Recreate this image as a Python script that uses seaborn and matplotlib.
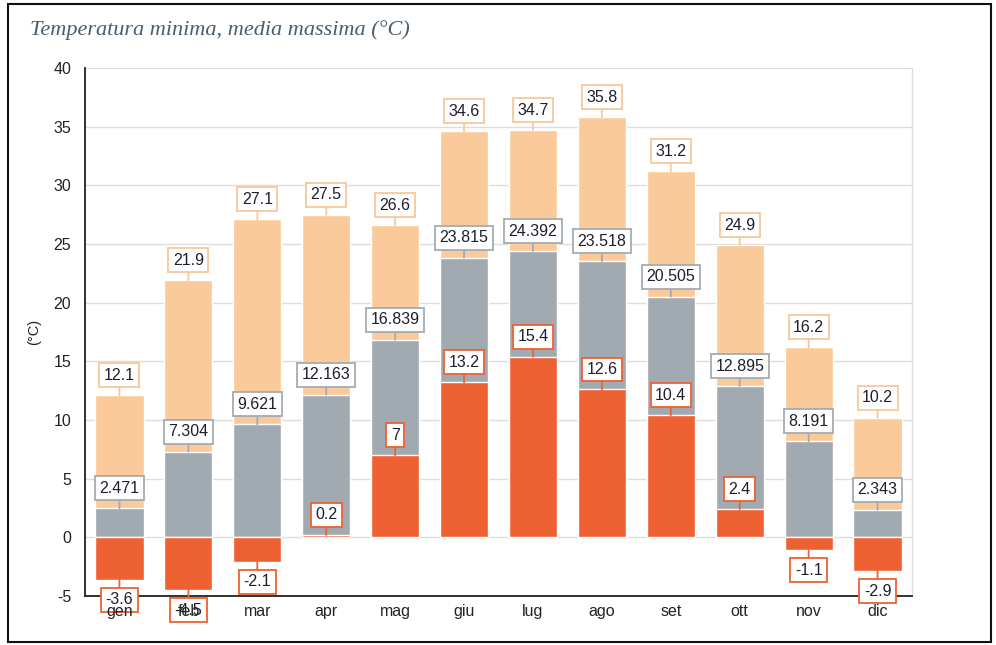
import matplotlib
matplotlib.use("Agg")
import matplotlib.pyplot as plt
import seaborn as sns
import numpy as np
import pandas as pd
from matplotlib.patches import Rectangle

months = ["gen", "feb", "mar", "apr", "mag", "giu", "lug", "ago", "set", "ott", "nov", "dic"]
t_max = [12.1, 21.9, 27.1, 27.5, 26.6, 34.6, 34.7, 35.8, 31.2, 24.9, 16.2, 10.2]
t_mean = [2.471, 7.304, 9.621, 12.163, 16.839, 23.815, 24.392, 23.518, 20.505, 12.895, 8.191, 2.343]
t_min = [-3.6, -4.5, -2.1, 0.2, 7, 13.2, 15.4, 12.6, 10.4, 2.4, -1.1, -2.9]
y_ticks = [-5, 0, 5, 10, 15, 20, 25, 30, 35, 40]

c_max = "#FACA9A"
c_mean = "#A2AAB1"
c_min = "#EE6132"
c_max_edge = "#F9C79A"
c_mean_edge = "#A2ABB4"
c_min_edge = "#EE6132"

sns.set_theme(style="white")
plt.rcParams["font.family"] = ["Liberation Sans", "DejaVu Sans"]

fig = plt.figure(figsize=(9.96, 6.45), dpi=100)
ax = fig.add_axes([85 / 996, 1 - 596 / 645, (912 - 85) / 996, (596 - 68) / 645])

df = pd.DataFrame({"mese": months, "max": t_max, "mean": t_mean, "min": t_min})
sns.barplot(data=df, x="mese", y="max", color=c_max, width=0.7, saturation=1, ax=ax, zorder=2)
sns.barplot(data=df, x="mese", y="mean", color=c_mean, width=0.7, saturation=1, ax=ax, zorder=3)
sns.barplot(data=df, x="mese", y="min", color=c_min, width=0.7, saturation=1, ax=ax, zorder=4)

ax.set_xlim(-0.5, 11.5)
ax.set_ylim(-5, 40)
ax.set_yticks(y_ticks)
ax.set_yticklabels([str(v) for v in y_ticks], fontsize=11.5, color="#222222")
ax.yaxis.grid(True, color="#dddddd", lw=1, zorder=0)
ax.set_axisbelow(True)

ax.set_xticks(np.arange(-0.5, 12.0, 1.0))
ax.set_xticklabels([])
ax.set_xticks(np.arange(12), minor=True)
ax.set_xticklabels(months, minor=True, fontsize=11.5, color="#222222")
ax.tick_params(axis="x", which="major", direction="inout", length=13, width=1.2, color="#222222")
ax.tick_params(axis="x", which="minor", length=0, pad=6)
ax.tick_params(axis="y", direction="inout", length=12, width=1.2, color="#222222", pad=4)
ax.xaxis.set_zorder(11)
ax.set_xlabel("")
ax.set_ylabel("(°C)", fontsize=10.5, color="#222222", labelpad=9)

for s in ["left", "bottom"]:
    ax.spines[s].set_color("#222222")
    ax.spines[s].set_linewidth(1.3)
ax.spines["top"].set_visible(False)
ax.spines["right"].set_color("#dddddd")
ax.spines["right"].set_linewidth(1)

def label(x, v, edge, below=False):
    txt = f"{v:g}"
    if below:
        off, va = -9, "top"
    else:
        off, va = 9, "bottom"
    ax.annotate(txt, xy=(x, v), xytext=(0, off), textcoords="offset points",
                ha="center", va=va, fontsize=11.5, color="#1e1e2e", zorder=10,
                bbox=dict(boxstyle="square,pad=0.28", fc="white", ec=edge, lw=1.3),
                arrowprops=dict(arrowstyle="-", color=edge, lw=1.3, shrinkA=0, shrinkB=0),
                annotation_clip=False)

for i in range(12):
    label(i, t_max[i], c_max_edge)
    label(i, t_mean[i], c_mean_edge)
    label(i, t_min[i], c_min_edge, below=t_min[i] < 0)

fig.text(30 / 996, 1 - 30 / 645, "Temperatura minima, media massima (°C)", fontsize=16,
         style="italic", family=["Liberation Serif", "DejaVu Serif"], color="#4a5d6e", va="center")

fig.patches.append(Rectangle((8 / 996, 1 - 642 / 645), (991 - 8) / 996, (642 - 4) / 645,
                             transform=fig.transFigure, fill=False, ec="#111111", lw=1.5, zorder=0))

fig.savefig("out.png", dpi=100)
